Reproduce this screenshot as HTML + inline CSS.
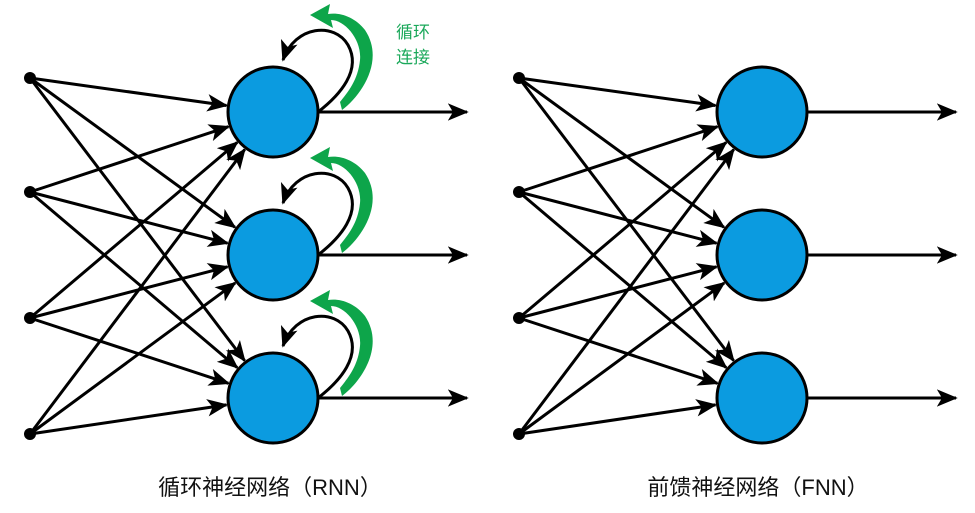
<!DOCTYPE html>
<html><head><meta charset="utf-8"><style>
body{margin:0;background:#fff;}
svg{display:block}
text{font-family:"Liberation Sans","Noto Sans CJK SC",sans-serif;}
</style></head><body>
<svg width="975" height="513" viewBox="0 0 975 513" xmlns="http://www.w3.org/2000/svg">
<defs>
<marker id="ah" viewBox="0 0 12 10" refX="11" refY="5" markerWidth="7" markerHeight="6" orient="auto" markerUnits="strokeWidth">
<path d="M0,0 L12,5 L0,10 L3,5 Z" fill="#000"/>
</marker>
<g id="net">
<g stroke="#000" stroke-width="3" fill="none" marker-end="url(#ah)">
<line x1="30" y1="78" x2="226.5" y2="105.5"/>
<line x1="30" y1="78" x2="235" y2="227.3"/>
<line x1="30" y1="78" x2="244.6" y2="360.6"/>
<line x1="30" y1="192" x2="228.4" y2="126.7"/>
<line x1="30" y1="192" x2="227.5" y2="243.2"/>
<line x1="30" y1="192" x2="237.2" y2="367.6"/>
<line x1="30" y1="318" x2="237.2" y2="142.4"/>
<line x1="30" y1="318" x2="227.5" y2="266.8"/>
<line x1="30" y1="318" x2="228.4" y2="383.3"/>
<line x1="30" y1="434" x2="244.7" y2="149.5"/>
<line x1="30" y1="434" x2="235.2" y2="282.9"/>
<line x1="30" y1="434" x2="226.5" y2="404.9"/>
<line x1="318" y1="112" x2="467" y2="112"/>
<line x1="318" y1="255" x2="467" y2="255"/>
<line x1="318" y1="398" x2="467" y2="398"/>
</g>
<g fill="#000">
<circle cx="30" cy="78" r="6"/><circle cx="30" cy="192" r="6"/><circle cx="30" cy="318" r="6"/><circle cx="30" cy="434" r="6"/>
</g>
<g fill="#0b9be0" stroke="#000" stroke-width="3">
<circle cx="273" cy="112" r="45"/><circle cx="273" cy="255" r="45"/><circle cx="273" cy="398" r="45"/>
</g>
</g>
<g id="loop">
<path d="M318,112 C340,95 362,70 348,45 C335,22 295,25 283,60" stroke="#000" stroke-width="3" fill="none" marker-end="url(#ah)"/>
<path d="M342,110 C362,95 385,60 365,30 C355,17 340,12 328,14 L330,4 L310,15 L333,28 L331,20 C345,20 362,40 360,60 C358,80 348,92 340,102 Z" fill="#0da54a"/>
</g>
</defs>
<use href="#net"/>
<use href="#net" transform="translate(489,0)"/>
<use href="#loop"/>
<use href="#loop" transform="translate(0,143)"/>
<use href="#loop" transform="translate(0,286)"/>
<text x="413" y="38" font-size="17" fill="#1aa85a" text-anchor="middle">循环</text>
<text x="413" y="63" font-size="17" fill="#1aa85a" text-anchor="middle">连接</text>
<text x="270" y="495" font-size="22" fill="#111" text-anchor="middle">循环神经网络（RNN）</text>
<text x="758" y="495" font-size="22" fill="#111" text-anchor="middle">前馈神经网络（FNN）</text>
</svg>
</body></html>
